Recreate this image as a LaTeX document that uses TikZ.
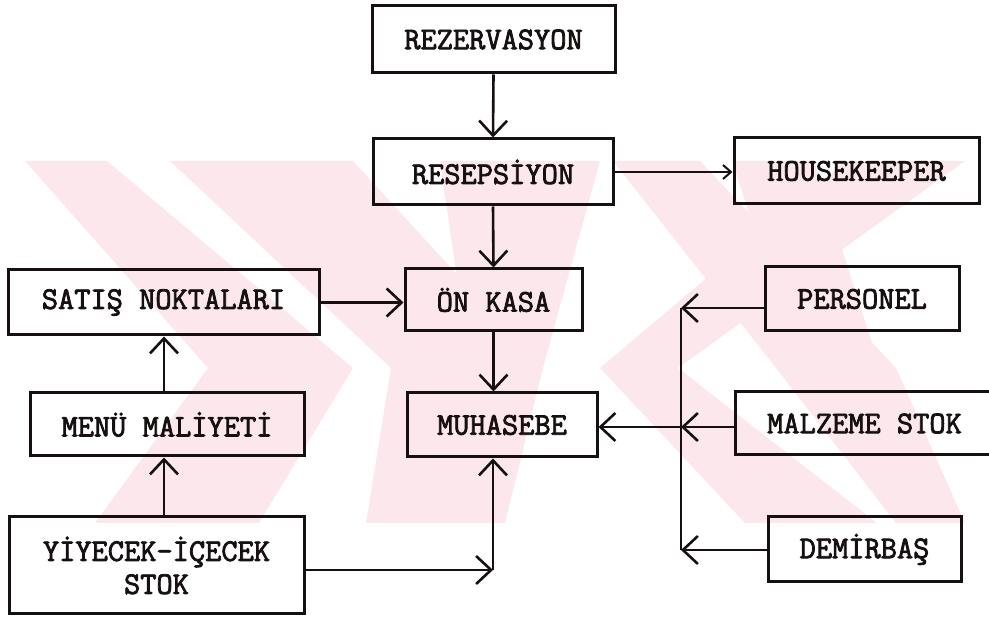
\documentclass[tikz,border=0pt]{standalone}
\usepackage{fontspec}
\newfontfamily\typewriter[FakeBold=2.5]{Latin Modern Mono}
\usetikzlibrary{arrows.meta}
\definecolor{ink}{RGB}{22,16,16}
\definecolor{mark}{RGB}{252,232,236}
\begin{document}
\begin{tikzpicture}[x=1pt,y=-1pt,
  box/.style={draw=ink, line width=3pt, rectangle, inner sep=0pt,
    font=\typewriter\fontsize{31.5}{33}\selectfont, text=ink, align=center},
  link/.style={draw=ink, line width=2.6pt,
    -{Straight Barb[length=15pt,width=28pt,line width=2.6pt]}},
  thinlink/.style={draw=ink, line width=1.7pt,
    -{Straight Barb[length=8pt,width=14pt,line width=2pt]}},
  plain/.style={draw=ink, line width=2.6pt},
  band/.style={fill=mark, draw=none}]
\useasboundingbox (0,0) rectangle (989,617);

% pale background emblem
\begin{scope}
  \clip (25,161) rectangle (965,523);
  \fill[band] (25,161) -- (107,161) -- (353,368) -- (259,523) -- (95,523) -- (208,368) -- cycle;
  \fill[band] (170,161) -- (353,161) -- (543,368) -- (505,523) -- (366,523) -- (391,368) -- cycle;
  \fill[band] (440,161) -- (600,161) -- (543,368) -- (470,368) -- cycle;
  \fill[band] (845,161) -- (965,161) -- (678,368) -- (877,523) -- (745,523) -- (600,368) -- cycle;
  \fill[band] (613,161) -- (700,161) -- (896,368) -- (965,523) -- (896,523) -- (776,368) -- cycle;
  \fill[band] (732,161) -- (814,161) -- (880,368) -- (800,368) -- cycle;
\end{scope}

% boxes
\node[box, minimum width=243pt, minimum height=67pt] (rez) at (493.5,39.5) {REZERVASYON};
\node[box, minimum width=240pt, minimum height=66pt] (res) at (493,172) {RESEPSİYON};
\node[box, minimum width=245pt, minimum height=66pt] (hk) at (856.5,171) {HOUSEKEEPER};
\node[box, minimum width=177pt, minimum height=62pt] (onk) at (493.5,300) {ÖN KASA};
\node[box, minimum width=311pt, minimum height=65pt] (sat) at (163.5,302.5) {SATIŞ NOKTALARI};
\node[box, minimum width=194pt, minimum height=64pt] (per) at (862,299) {PERSONEL};
\node[box, minimum width=274pt, minimum height=63pt] (menu) at (167,424.5) {MENÜ MALİYETİ};
\node[box, minimum width=190pt, minimum height=64pt] (muh) at (502,425) {MUHASEBE};
\node[box, minimum width=259pt, minimum height=63pt] (malz) at (864.5,423.5) {MALZEME STOK};
\node[box, minimum width=295pt, minimum height=97pt] (yiy) at (156.5,565.5) {YİYECEK-İÇECEK\\STOK};
\node[box, minimum width=193pt, minimum height=65pt] (dem) at (864.5,549.5) {DEMİRBAŞ};

% junction points
\coordinate (corner) at (493,570);
\coordinate (bp) at (681,308);
\coordinate (bm) at (681,427);
\coordinate (bd) at (681,550);

% connectors
\draw[link] (rez.south) -- (res.north);
\draw[link] (res.south) -- (onk.north);
\draw[thinlink] (res.east) -- (res.east -| hk.west);
\draw[link] (sat.east) -- (sat.east -| onk.west);
\draw[link] (onk.south) -- (onk.south |- muh.north);
\draw[link] (menu.north -| 164,0) -- (sat.south -| 164,0);
\draw[link] (yiy.north -| 164,0) -- (menu.south -| 164,0);
\draw[link] (yiy.east |- corner) -- (corner);
\draw[link] (corner) -- (corner |- muh.south);
\draw[plain] (bp) -- (bd);
\draw[link] (per.west |- bp) -- (bp);
\draw[link] (malz.west |- bm) -- (bm);
\draw[link] (dem.west |- bd) -- (bd);
\draw[link] (bm) -- (bm -| muh.east);
\end{tikzpicture}
\end{document}
